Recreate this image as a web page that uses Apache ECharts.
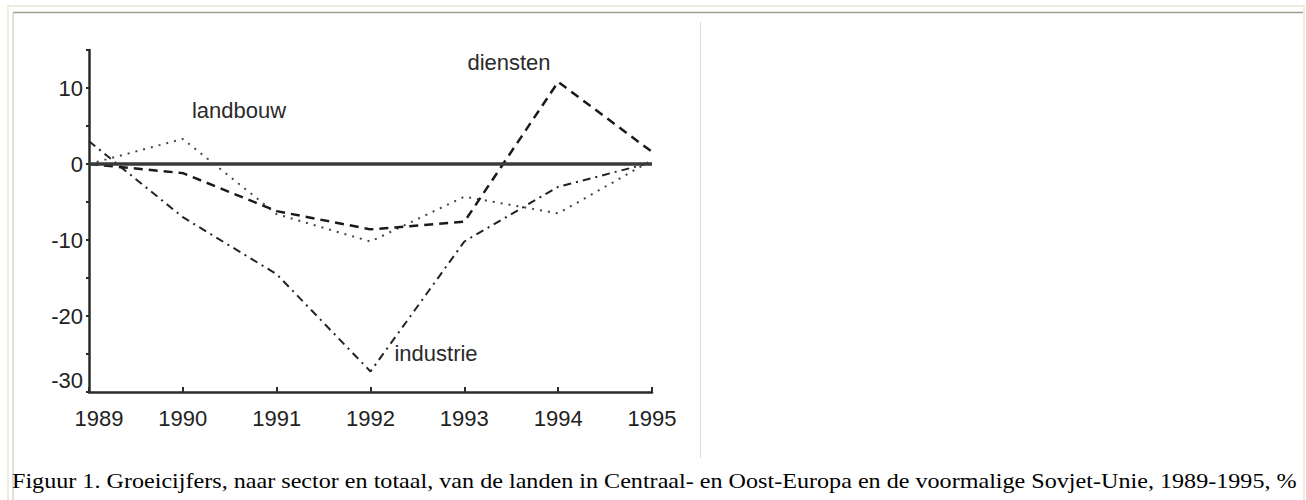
<!DOCTYPE html>
<html>
<head>
<meta charset="utf-8">
<script src="https://cdn.jsdelivr.net/npm/echarts@6/dist/echarts.min.js"></script>
<style>
html,body{margin:0;padding:0;background:#fff;}
#c{width:1306px;height:500px;}
</style>
</head>
<body>
<div id="c"></div>
<script>
// ---- data ----
var years = ['1989', '1990', '1991', '1992', '1993', '1994', '1995'];
var landbouw = [0, 3.3, -6.6, -10.2, -4.3, -6.5, 0.5];
var industrie = [3, -7, -14.5, -27.3, -10.2, -3, 0.2];
var diensten = [0, -1.2, -6.2, -8.6, -7.6, 10.8, 1.6];
var yTickLabels = [10, 0, -10, -20, -30];
var caption = 'Figuur 1. Groeicijfers, naar sector en totaal, van de landen in Centraal- en Oost-Europa en de voormalige Sovjet-Unie, 1989-1995, %';

var chart = echarts.init(document.getElementById('c'), null, {renderer: 'svg'});
var AX = '#2b2b2b';
var FONT = 'Liberation Sans, Arial, sans-serif';

var option = {
  animation: false,
  backgroundColor: '#fff',
  grid: {left: 89, right: 654, top: 50, bottom: 108, containLabel: false},
  xAxis: {
    type: 'category',
    data: years,
    boundaryGap: false,
    axisLine: {onZero: false, lineStyle: {color: AX, width: 2.5}},
    axisTick: {show: true, inside: true, length: 5, interval: 0, lineStyle: {color: AX, width: 2}},
    axisLabel: {
      interval: 0, hideOverlap: false,
      color: '#222', fontFamily: FONT, fontSize: 22, margin: 15,
      formatter: function (v, i) { return i === 0 ? '{f|' + v + '}' : v; },
      rich: {f: {fontFamily: FONT, fontSize: 22, color: '#222', padding: [0, 0, 3, 20]}}
    },
    splitLine: {show: false}
  },
  yAxis: {
    type: 'value',
    min: -30, max: 15, interval: 5,
    axisLine: {show: true, lineStyle: {color: AX, width: 2.5}},
    axisTick: {show: true, length: 3, lineStyle: {color: AX, width: 2}},
    axisLabel: {
      hideOverlap: false,
      color: '#222', fontFamily: FONT, fontSize: 22, margin: 6,
      formatter: function (v) {
        if (yTickLabels.indexOf(v) < 0) return '';
        return v === yTickLabels[yTickLabels.length - 1] ? '{b|' + v + '}' : String(v);
      },
      rich: {b: {fontFamily: FONT, fontSize: 22, color: '#222', padding: [0, 0, 24, 0]}}
    },
    splitLine: {show: false}
  },
  series: [
    {
      name: 'landbouw', type: 'line', data: landbouw, symbol: 'none',
      lineStyle: {color: '#444', width: 2, type: [2, 6]},
      markLine: {
        silent: true, symbol: 'none', label: {show: false},
        lineStyle: {color: '#3a3a3a', width: 3.5, type: 'solid'},
        data: [{yAxis: 0}]
      }
    },
    {
      name: 'industrie', type: 'line', data: industrie, symbol: 'none',
      lineStyle: {color: '#222', width: 2, type: [8, 5, 2, 5]}
    },
    {
      name: 'diensten', type: 'line', data: diensten, symbol: 'none',
      lineStyle: {color: '#1a1a1a', width: 2.5, type: [9, 6]}
    }
  ],
  graphic: [
    {type: 'rect', shape: {x: 8, y: 6, width: 1296, height: 520}, style: {fill: 'none', stroke: '#e9e6d6', lineWidth: 1.5}, silent: true, z: -10},
    {type: 'line', shape: {x1: 13, y1: 12.5, x2: 1303, y2: 12.5}, style: {stroke: '#a29e8c', lineWidth: 1.5}, silent: true},
    {type: 'line', shape: {x1: 13, y1: 12.5, x2: 13, y2: 500}, style: {stroke: '#d8d5c6', lineWidth: 1.5}, silent: true},
    {type: 'line', shape: {x1: 700.5, y1: 22, x2: 700.5, y2: 458}, style: {stroke: '#dcdcdc', lineWidth: 1}, silent: true},
    {type: 'text', x: 239, y: 110, style: {text: 'landbouw', font: '22px ' + FONT, fill: '#2a2a2a', textAlign: 'center', textVerticalAlign: 'middle'}},
    {type: 'text', x: 509, y: 62, style: {text: 'diensten', font: '22px ' + FONT, fill: '#2a2a2a', textAlign: 'center', textVerticalAlign: 'middle'}},
    {type: 'text', x: 436, y: 353, style: {text: 'industrie', font: '22px ' + FONT, fill: '#2a2a2a', textAlign: 'center', textVerticalAlign: 'middle'}},
    {type: 'text', x: 12, y: 481, scaleX: 1.149, originX: 0, style: {text: caption, font: '21px Liberation Serif, Times New Roman, serif', fill: '#000', textAlign: 'left', textVerticalAlign: 'middle'}}
  ]
};
chart.setOption(option);
</script>
</body>
</html>
